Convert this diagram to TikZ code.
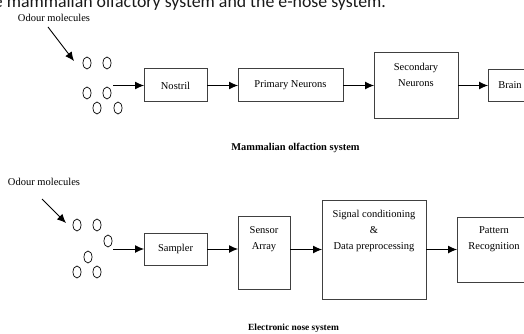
\documentclass[tikz,border=0pt]{standalone}
\usepackage{fontspec}
\setmainfont{Liberation Serif}
\newfontfamily\headfont{Carlito}
\usetikzlibrary{positioning,arrows.meta}

\begin{document}
\begin{tikzpicture}[x=1pt,y=-1pt,
  blockbox/.style={draw=boxColor,line width=1.0pt,inner sep=0pt,outer sep=0pt,align=center,font=\fontsize{10.5}{16}\selectfont},
  labeltext/.style={inner sep=0pt,outer sep=0pt,align=center,font=\fontsize{10.5}{16}\selectfont},
  flowarrow/.style={draw=drawColor,line width=0.9pt,-{Latex[length=9pt,width=8pt]}},
  molecule/.style={draw=drawColor,line width=0.7pt}]
\definecolor{drawColor}{RGB}{0,0,0}
\definecolor{boxColor}{gray}{0.25}
\definecolor{headColor}{gray}{0.10}
\path[use as bounding box] (0,0) rectangle (524,334);
\clip (0,0) rectangle (524,334);

\node[text=headColor,anchor=base west,inner sep=0pt,outer sep=0pt,font=\headfont\fontsize{17.8}{20}\selectfont] (heading) at (-6,7.5) {e mammalian olfactory system and the e-nose system.};

\node[labeltext] (odour1) at (54,18) {Odour molecules};
\coordinate (odourtail1) at (48,27);
\coordinate (odourtip1) at (74,61);
\draw[flowarrow] (odourtail1) -- (odourtip1);

\draw[molecule] ( 87, 63) ellipse [x radius=4pt, y radius=6pt];
\draw[molecule] (107, 63) ellipse [x radius=4pt, y radius=6pt];
\draw[molecule] ( 87, 93) ellipse [x radius=4pt, y radius=6pt];
\draw[molecule] (107, 93) ellipse [x radius=4pt, y radius=6pt];
\draw[molecule] ( 97,108) ellipse [x radius=4pt, y radius=6pt];
\draw[molecule] (118,108) ellipse [x radius=4pt, y radius=6pt];

\coordinate (gas1) at (113,85.5);
\node[blockbox,minimum width=63,minimum height=33] (nostril) at (175.5,85.5) {Nostril};
\node[blockbox,minimum width=105,minimum height=33] (primary) at (290.5,85.5) {Primary Neurons};
\node[blockbox,minimum width=84,minimum height=66] (secondary) at (416,85.5) {};
\node[labeltext,below=10.5pt of secondary.north] (secondarytext) {Secondary\\Neurons};
\node[blockbox,minimum width=44,minimum height=32,anchor=west] (brain) at (488,85.5) {Brain};

\draw[flowarrow] (gas1) -- (nostril);
\draw[flowarrow] (nostril) -- (primary);
\draw[flowarrow] (primary) -- (secondary);
\draw[flowarrow] (secondary) -- (brain);

\node[inner sep=0pt,font=\bfseries\fontsize{10.4}{12}\selectfont] (caption1) at (295.5,148) {Mammalian olfaction system};

\node[labeltext] (odour2) at (44,182) {Odour molecules};
\coordinate (odourtail2) at (42,199);
\coordinate (odourtip2) at (66,223);
\draw[flowarrow] (odourtail2) -- (odourtip2);

\draw[molecule] ( 77,225) ellipse [x radius=4pt, y radius=6pt];
\draw[molecule] ( 97,225) ellipse [x radius=4pt, y radius=6pt];
\draw[molecule] (108,241) ellipse [x radius=4pt, y radius=6pt];
\draw[molecule] ( 88,257) ellipse [x radius=4pt, y radius=6pt];
\draw[molecule] ( 77,272) ellipse [x radius=4pt, y radius=6pt];
\draw[molecule] ( 97,272) ellipse [x radius=4pt, y radius=6pt];

\coordinate (gas2) at (113,249);
\node[blockbox,minimum width=63,minimum height=32] (sampler) at (175.5,249) {Sampler};
\node[blockbox,minimum width=52,minimum height=73] (sensor) at (264,252.5) {};
\node[labeltext,below=10.5pt of sensor.north] (sensortext) {Sensor\\Array};
\node[blockbox,minimum width=104,minimum height=99] (signal) at (374,249.5) {};
\node[labeltext,below=10.5pt of signal.north] (signaltext) {Signal conditioning\\\&\\Data preprocessing};
\node[blockbox,minimum width=74,minimum height=65] (pattern) at (494,249.5) {};
\node[labeltext,below=9.5pt of pattern.north] (patterntext) {Pattern\\Recognition};

\draw[flowarrow] (gas2) -- (sampler);
\draw[flowarrow] (sampler.east) -- (sampler.east -| sensor.west);
\draw[flowarrow] (sensor.east |- signal) -- (signal.west);
\draw[flowarrow] (signal) -- (pattern);

\node[inner sep=0pt,font=\bfseries\fontsize{9.4}{11}\selectfont] (caption2) at (293.5,328) {Electronic nose system};
\end{tikzpicture}
\end{document}
